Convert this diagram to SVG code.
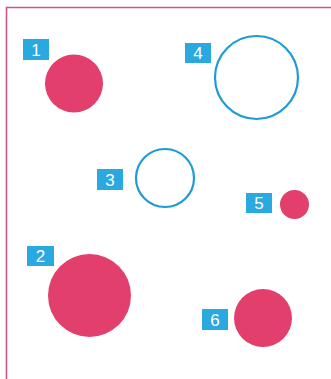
<svg xmlns="http://www.w3.org/2000/svg" width="331" height="379" viewBox="0 0 331 379">
<style>
.lbl{fill:#2aa9e0}
.t{font-family:"Liberation Sans",Arial,sans-serif;font-size:17px;fill:#ffffff;text-anchor:middle}
.solid{fill:#e23f6c}
.ring{fill:none;stroke:#1e9ad6;stroke-width:2.2}
</style>
<rect width="331" height="379" fill="#ffffff"/>
<path d="M331,7.5 H6.5 V379" fill="none" stroke="#c9578e" stroke-width="1.6"/>
<g id="n1"><rect class="lbl" x="23" y="39" width="26" height="21"/><text class="t" x="36" y="56">1</text><circle class="solid" cx="74" cy="83.5" r="29"/></g>
<g id="n4"><rect class="lbl" x="185" y="43" width="26" height="20"/><text class="t" x="198" y="59">4</text><circle class="ring" cx="256.5" cy="77.5" r="41.5"/></g>
<g id="n3"><rect class="lbl" x="97" y="169" width="26" height="21"/><text class="t" x="110" y="185.5">3</text><circle class="ring" cx="165" cy="178" r="29"/></g>
<g id="n5"><rect class="lbl" x="246" y="193" width="26" height="20"/><text class="t" x="259" y="209">5</text><circle class="solid" cx="294.5" cy="204.5" r="14.5"/></g>
<g id="n2"><rect class="lbl" x="27" y="246" width="27" height="20"/><text class="t" x="40.5" y="262">2</text><circle class="solid" cx="89.5" cy="295.5" r="41.5"/></g>
<g id="n6"><rect class="lbl" x="202" y="309" width="26" height="21"/><text class="t" x="215" y="325.5">6</text><circle class="solid" cx="263" cy="318" r="29"/></g>
<g id="connectors"/>
</svg>
